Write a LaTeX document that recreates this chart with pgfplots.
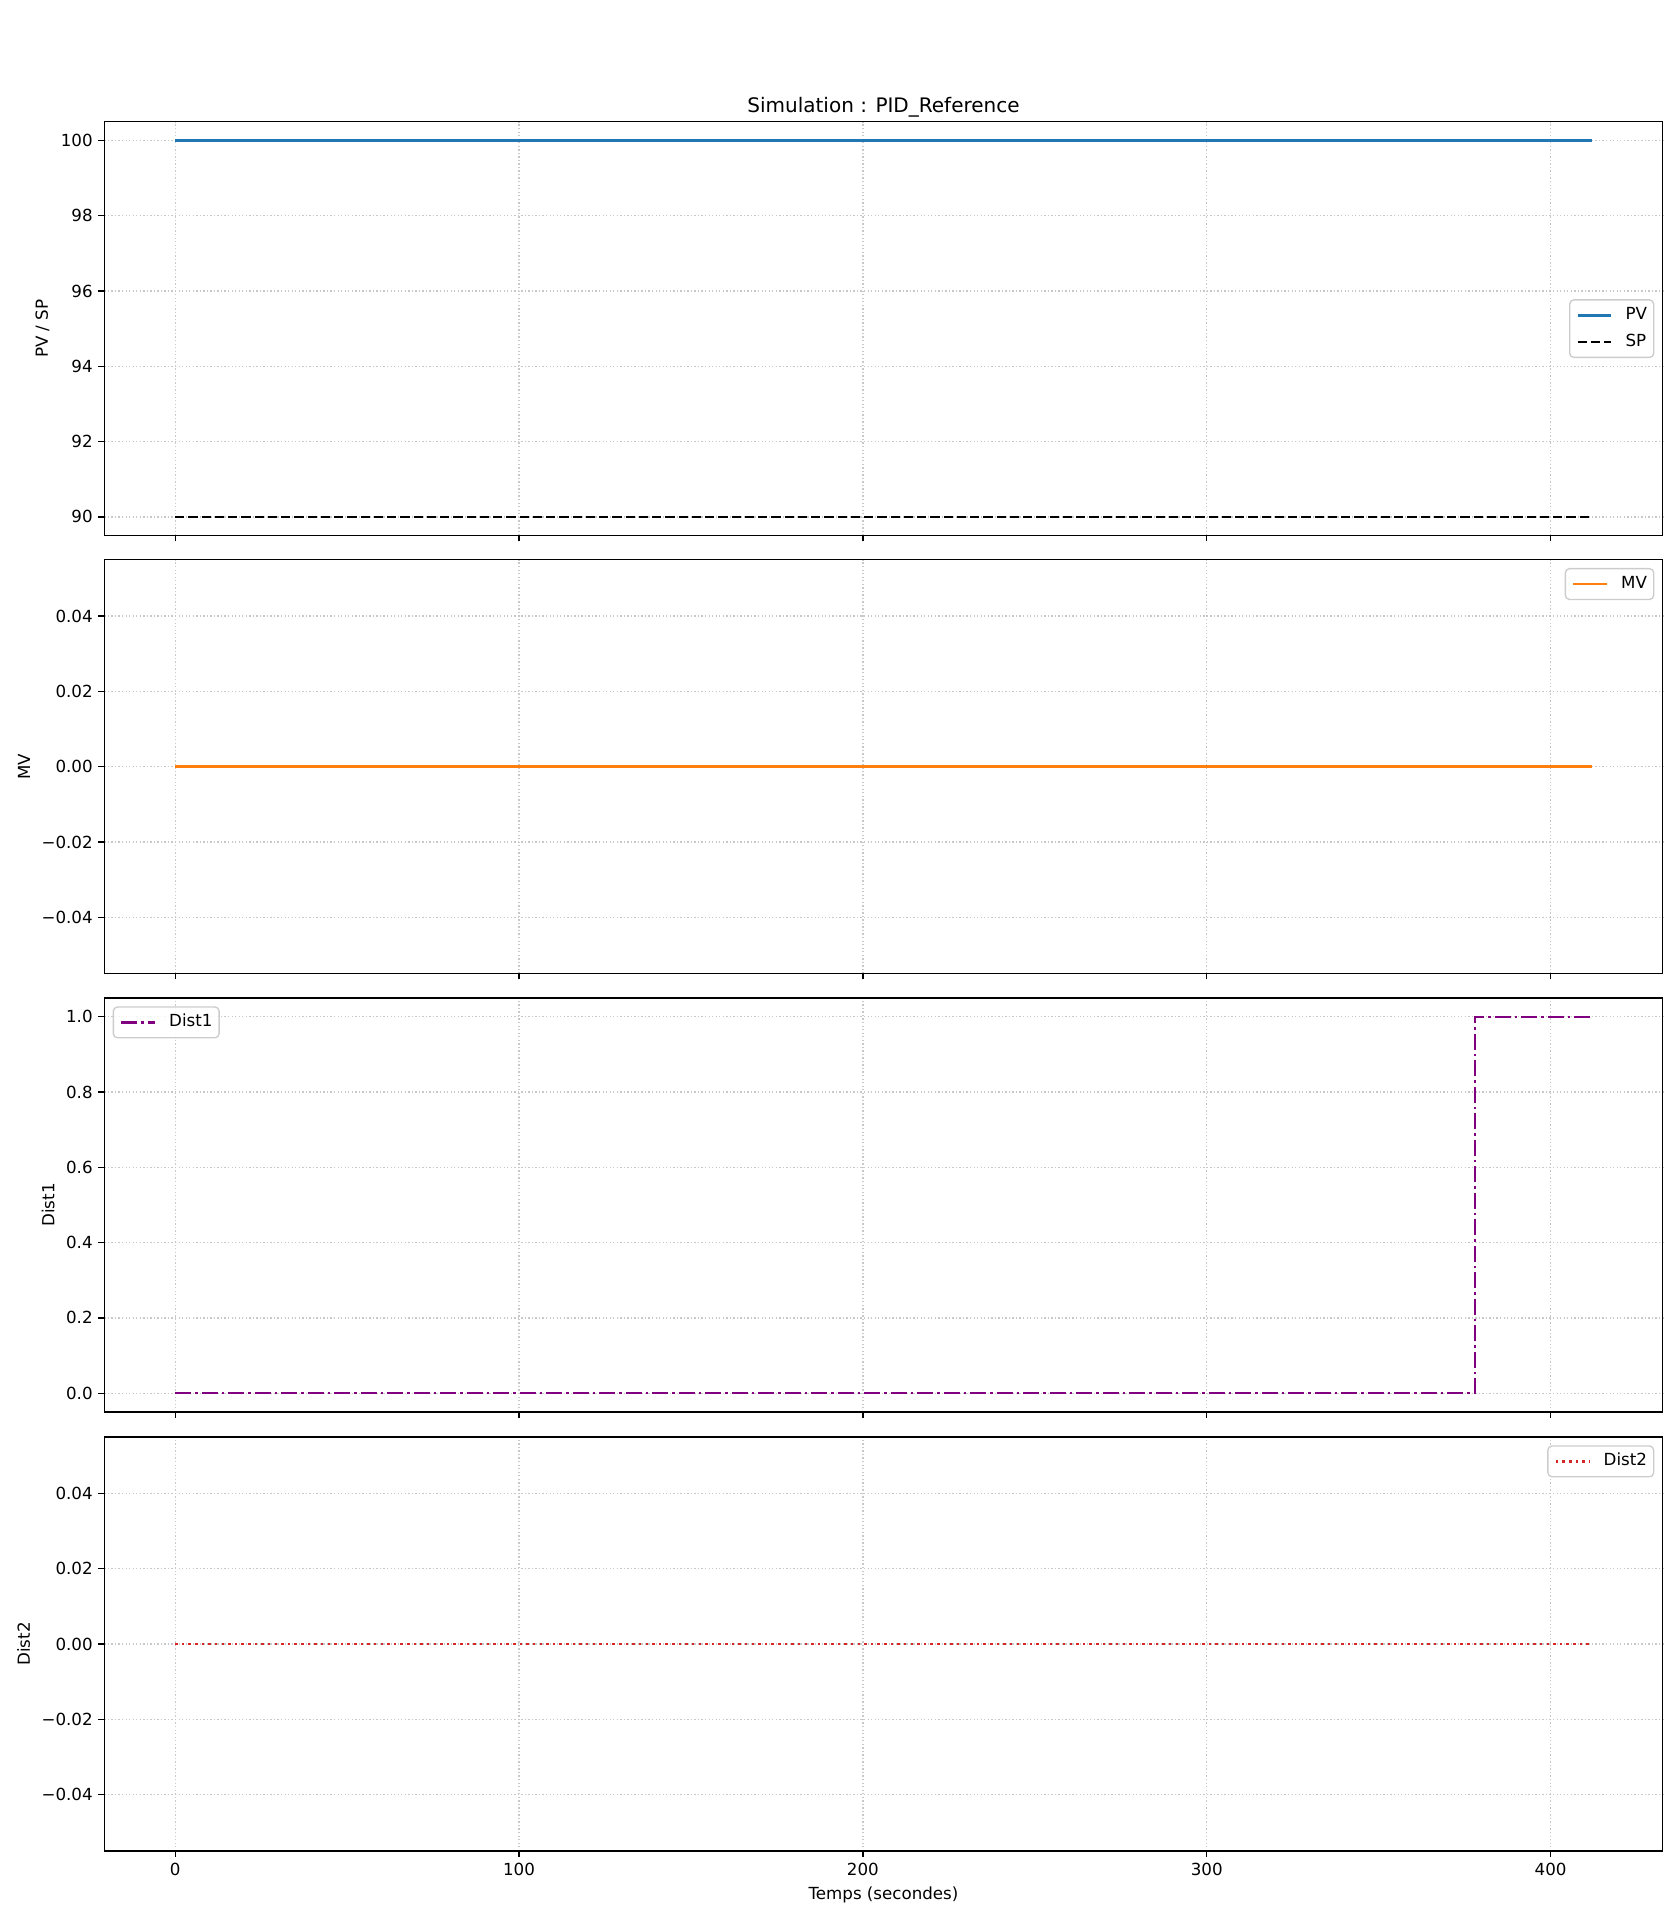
\documentclass[border=0pt]{standalone}
\usepackage{fontspec}
\setmainfont{DejaVu Sans}
\usepackage{pgfplots}
\pgfplotsset{compat=1.18}
\definecolor{tabblue}{HTML}{1F77B4}
\definecolor{taborange}{HTML}{FF7F0E}
\definecolor{tabred}{HTML}{D62728}
\definecolor{mplpurple}{HTML}{800080}
\definecolor{gridgray}{HTML}{C8C8C8}
\definecolor{legedge}{HTML}{CCCCCC}

\pgfplotsset{
 mpl/.style={
  scale only axis, width=935pt, height=248.4pt,
  xmin=-20.6, xmax=432.6,
  xtick={0,100,200,300,400},
  scaled y ticks=false, scaled x ticks=false,
  tick align=outside, tick pos=left,
  major tick length=3.5pt,
  tick style={black, line width=0.8pt},
  axis line style={line width=0.8pt},
  grid=major,
  major grid style={gridgray, line width=0.8pt, dash pattern=on 0.8pt off 1.32pt},
  ticklabel style={font=\fontsize{10}{12}\selectfont},
  /pgf/number format/assume math mode=true,
  label style={font=\fontsize{10}{12}\selectfont},
  legend cell align=left,
  legend image code/.code={\draw[##1] (0pt,0pt) -- (20pt,0pt);},
  legend style={draw=legedge, line width=0.8pt, rounded corners=2.5pt, fill=white, fill opacity=0.8, text opacity=1,
    inner xsep=4pt, inner ysep=3.5pt, row sep=4.5pt,
    /tikz/every odd column/.append style={column sep=8pt},
    nodes={inner xsep=0pt, inner ysep=1pt, text height=7.5pt, text depth=2pt, font=\fontsize{10}{12}\selectfont}},
 },
}

\begin{document}
\begin{tikzpicture}
\path[use as bounding box] (0,0) rectangle (1008pt,1152pt);

% Axis 1: PV / SP
\begin{axis}[mpl, at={(62.6pt,830.6pt)}, anchor=south west,
  ymin=89.5, ymax=100.5, ytick={90,92,94,96,98,100},
  yticklabels={90,92,94,96,98,100},
  xticklabels={},
  ylabel={PV / SP},
  title={Simulation : PID\_Reference},
  title style={font=\fontsize{12}{14}\selectfont, at={(0.5,1)}, anchor=base, yshift=-0.6pt},
  legend style={at={(0.99465,0.5)}, anchor=east}]
\addplot[tabblue, line width=1.5pt] coordinates {(0,100) (412,100)};
\addlegendentry{PV}
\addplot[black, line width=1.5pt, dash pattern=on 5.55pt off 2.4pt] coordinates {(0,90) (412,90)};
\addlegendentry{SP}
\end{axis}

% Axis 2: MV
\begin{axis}[mpl, at={(62.6pt,567.8pt)}, anchor=south west,
  ymin=-0.055, ymax=0.055, ytick={-0.04,-0.02,0,0.02,0.04},
  yticklabels={−0.04,−0.02,0.00,0.02,0.04},
  xticklabels={},
  ylabel={MV},
  legend style={at={(0.99465,0.9799)}, anchor=north east}]
\addplot[taborange, line width=1.5pt] coordinates {(0,0) (412,0)};
\addlegendentry{MV}
\end{axis}

% Axis 3: Dist1
\begin{axis}[mpl, at={(62.6pt,304.8pt)}, anchor=south west,
  ymin=-0.05, ymax=1.05, ytick={0,0.2,0.4,0.6,0.8,1},
  yticklabels={0.0,0.2,0.4,0.6,0.8,1.0},
  xticklabels={},
  ylabel={Dist1},
  legend style={at={(0.00535,0.9799)}, anchor=north west}]
\addplot[mplpurple, line width=1.5pt, dash pattern=on 9.6pt off 2.4pt on 1.5pt off 2.4pt] coordinates {(0,0) (378,0) (378,1) (412,1)};
\addlegendentry{Dist1}
\end{axis}

% Axis 4: Dist2
\begin{axis}[mpl, at={(62.6pt,41.4pt)}, anchor=south west,
  ymin=-0.055, ymax=0.055, ytick={-0.04,-0.02,0,0.02,0.04},
  yticklabels={−0.04,−0.02,0.00,0.02,0.04},
  xticklabels={0,100,200,300,400},
  ylabel={Dist2},
  xlabel={Temps (secondes)},
  legend style={at={(0.99465,0.9799)}, anchor=north east}]
\addplot[tabred, line width=1.5pt, dash pattern=on 1.5pt off 2.475pt] coordinates {(0,0) (412,0)};
\addlegendentry{Dist2}
\end{axis}
\end{tikzpicture}
\end{document}
